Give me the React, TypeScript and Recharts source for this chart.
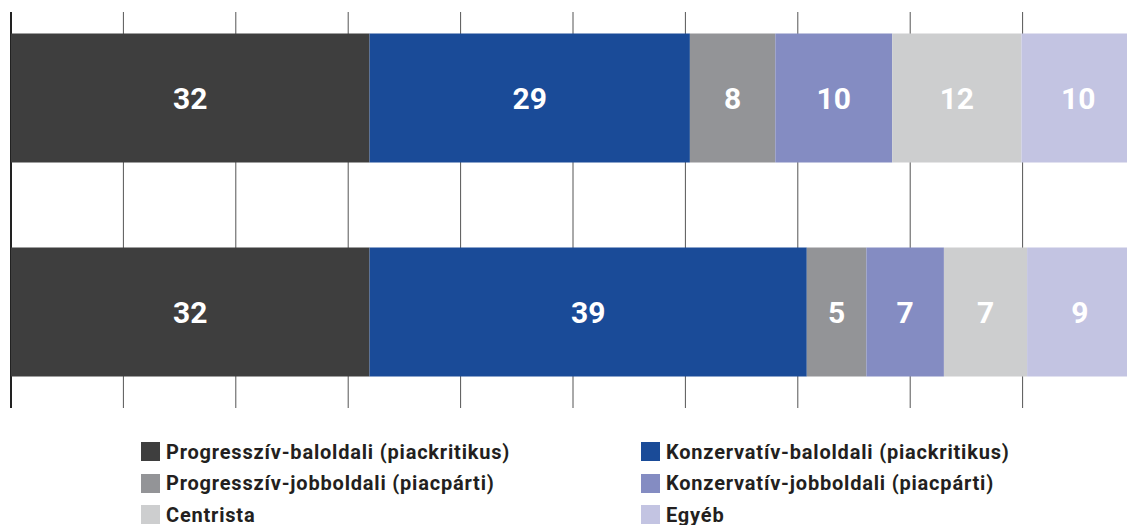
import { BarChart, Bar, XAxis, YAxis, CartesianGrid, LabelList } from 'recharts';

// two survey rows, shares in percent
const rows = ['1', '2'];
const progBal = [31.9, 31.9];
const konzBal = [28.5, 38.9];
const progJobb = [7.6, 5.3];
const konzJobb = [10.4, 6.9];
const centrista = [11.5, 7.4];
const egyeb = [10.1, 9.4];

const xTicks = [0, 10, 20, 30, 40, 50, 60, 70, 80, 90, 100];

const SERIES = [
  { key: 'progBal', name: 'Progresszív-baloldali (piackritikus)', color: '#3e3e3e', values: progBal },
  { key: 'konzBal', name: 'Konzervatív-baloldali (piackritikus)', color: '#1a4b98', values: konzBal },
  { key: 'progJobb', name: 'Progresszív-jobboldali (piacpárti)', color: '#939497', values: progJobb },
  { key: 'konzJobb', name: 'Konzervatív-jobboldali (piacpárti)', color: '#848cc2', values: konzJobb },
  { key: 'centrista', name: 'Centrista', color: '#cdcecf', values: centrista },
  { key: 'egyeb', name: 'Egyéb', color: '#c3c4e2', values: egyeb },
];

const data = rows.map((name, i) => {
  const row: Record<string, string | number> = { name };
  SERIES.forEach((s) => {
    row[s.key] = s.values[i];
  });
  return row;
});

const FONT = 'Roboto, "Open Sans", sans-serif';

export default function App() {
  return (
    <div
      style={{
        position: 'absolute',
        left: 0,
        top: 0,
        width: 1127,
        height: 525,
        overflow: 'hidden',
        background: '#fff',
        fontFamily: FONT,
      }}
    >
      <div style={{ position: 'absolute', left: 0, top: -40 }}>
        <BarChart
          width={1135}
          height={458.5}
          data={data}
          layout="vertical"
          margin={{ top: 30.5, right: 0, bottom: 0, left: 11 }}
          barSize={129}
        >
          <CartesianGrid horizontal={false} stroke="#555" strokeWidth={1} y={52} height={396} />
          <CartesianGrid horizontal={false} verticalValues={[0]} stroke="#222" strokeWidth={2} y={52} height={396} />
          <XAxis type="number" domain={[0, 100]} ticks={xTicks} hide />
          <YAxis type="category" dataKey="name" hide />
          {SERIES.map((s) => (
            <Bar key={s.key} dataKey={s.key} name={s.name} stackId="a" fill={s.color} isAnimationActive={false}>
              <LabelList
                dataKey={s.key}
                position="center"
                formatter={(v: number) => Math.round(v)}
                fill="#fff"
                style={{ fontFamily: FONT, fontWeight: 700, fontSize: 30 }}
              />
            </Bar>
          ))}
        </BarChart>
      </div>
      <div
        style={{
          position: 'absolute',
          left: 141,
          top: 442,
          display: 'grid',
          gridTemplateColumns: '500px 500px',
          gridAutoRows: '31.5px',
        }}
      >
        {SERIES.map((s) => (
          <div key={s.key} style={{ display: 'flex', alignItems: 'center', height: 19 }}>
            <span style={{ width: 19, height: 19, background: s.color, display: 'inline-block', flex: 'none' }} />
            <span
              style={{
                marginLeft: 6,
                fontSize: 20,
                fontWeight: 700,
                letterSpacing: 0.8,
                color: '#231f20',
                whiteSpace: 'nowrap',
              }}
            >
              {s.name}
            </span>
          </div>
        ))}
      </div>
    </div>
  );
}
